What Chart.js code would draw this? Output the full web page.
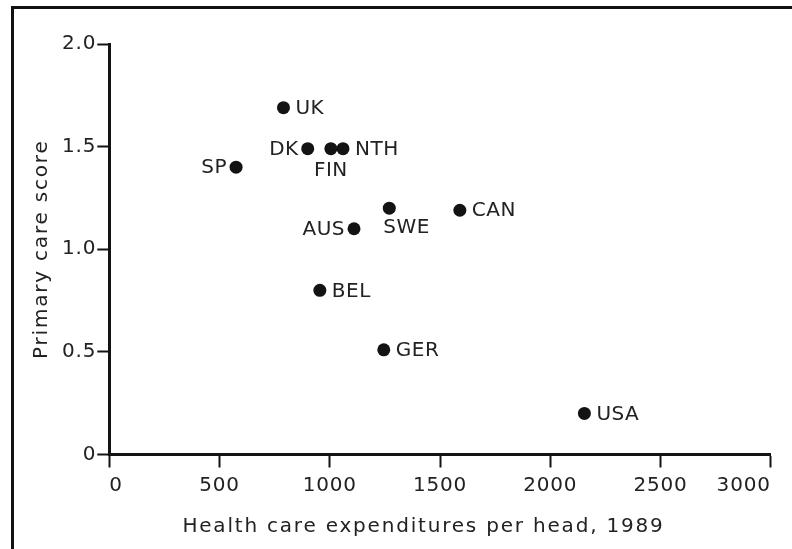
<!DOCTYPE html>
<html>
<head>
<meta charset="utf-8">
<title>Primary care score vs health care expenditures</title>
<script src="https://cdn.jsdelivr.net/npm/chart.js@4.4.1/dist/chart.umd.min.js"></script>
<style>
    html, body { margin: 0; padding: 0; background: #fff; overflow: hidden; }
    #wrap { position: relative; width: 792px; height: 549px; }
    #frame { position: absolute; left: 11px; top: 6px; width: 820px; height: 600px;
             border-left: 3px solid #111; border-top: 3px solid #111; }
    canvas { position: absolute; left: 0; top: 0; }
</style>
</head>
<body>
<div id="wrap">
    <div id="frame"></div>
    <canvas id="canvas" width="792" height="549"></canvas>
</div>
<script>
// data
const countries = ['UK', 'DK', 'FIN', 'NTH', 'SP', 'SWE', 'CAN', 'AUS', 'BEL', 'GER', 'USA'];
const spending  = [790, 900, 1005, 1060, 575, 1270, 1590, 1110, 955, 1245, 2155];
const score     = [1.69, 1.49, 1.49, 1.49, 1.40, 1.20, 1.19, 1.10, 0.80, 0.51, 0.20];

const xTicks = [0, 500, 1000, 1500, 2000, 2500, 3000];
const yTicks = [0, 0.5, 1.0, 1.5, 2.0];
const yTickLabels = ['0', '0.5', '1.0', '1.5', '2.0'];

const xTitle = 'Health care expenditures per head, 1989';
const yTitle = 'Primary care score';

var ink = '#131313';
var textInk = '#222';
var family = '"DejaVu Sans", sans-serif';

// where each country name sits relative to its dot
var labelSide = {
    UK: 'right', DK: 'left', FIN: 'below', NTH: 'right', SP: 'left', SWE: 'belowLeft',
    CAN: 'right', AUS: 'left', BEL: 'right', GER: 'right', USA: 'right'
};

var spacingPlugin = {
    id: 'spacing',
    beforeDraw: function(chart) {
        chart.ctx.letterSpacing = '0.8px';
    }
};

var labelPlugin = {
    id: 'pointLabels',
    afterDatasetsDraw: function(chart) {
        var ctx = chart.ctx;
        var pts = chart.getDatasetMeta(0).data;
        ctx.save();
        ctx.font = '20px ' + family;
        ctx.fillStyle = textInk;
        ctx.letterSpacing = '0.5px';
        ctx.textBaseline = 'middle';
        pts.forEach(function(p, i) {
            var name = countries[i];
            var side = labelSide[name];
            if (side === 'left') {
                ctx.textAlign = 'right';
                ctx.fillText(name, p.x - 9, p.y + 1);
            } else if (side === 'below') {
                ctx.textAlign = 'center';
                ctx.fillText(name, p.x, p.y + 22);
            } else if (side === 'belowLeft') {
                ctx.textAlign = 'left';
                ctx.fillText(name, p.x - 6, p.y + 20);
            } else {
                ctx.textAlign = 'left';
                ctx.fillText(name, p.x + 12, p.y + 1);
            }
        });
        ctx.restore();
    }
};

var titlePlugin = {
    id: 'axisTitles',
    afterDraw: function(chart) {
        var ctx = chart.ctx;
        var area = chart.chartArea;
        ctx.save();
        ctx.font = '20px ' + family;
        ctx.fillStyle = textInk;
        ctx.letterSpacing = '1.8px';
        ctx.textAlign = 'center';
        ctx.textBaseline = 'alphabetic';
        ctx.fillText(xTitle, area.left + (area.right - area.left) * 0.475, 532);
        ctx.translate(47, (area.top + area.bottom) / 2);
        ctx.rotate(-Math.PI / 2);
        ctx.fillText(yTitle, 0, 0);
        ctx.restore();
    }
};

function renderChart() {
    var ctx = document.getElementById('canvas').getContext('2d');
    new Chart(ctx, {
        type: 'scatter',
        data: {
            datasets: [{
                data: spending.map((x, i) => ({ x: x, y: score[i] })),
                backgroundColor: ink,
                borderWidth: 0,
                pointRadius: 6.5,
                pointHoverRadius: 6.5
            }]
        },
        options: {
            responsive: false,
            animation: false,
            layout: { padding: { left: 0, top: 44, right: 21.3, bottom: 0 } },
            plugins: {
                legend: { display: false },
                tooltip: { enabled: false }
            },
            scales: {
                x: {
                    type: 'linear',
                    position: 'bottom',
                    min: 0,
                    max: 3000,
                    afterBuildTicks: function(scale) {
                        scale.ticks = xTicks.map(v => ({ value: v }));
                    },
                    afterFit: function(scale) {
                        scale.height = 94.5;
                        scale.paddingLeft = 0;
                        scale.paddingRight = 0;
                    },
                    border: { display: true, color: ink, width: 3 },
                    grid: {
                        drawOnChartArea: false,
                        drawTicks: true,
                        tickLength: 13,
                        tickWidth: 2,
                        tickColor: ink
                    },
                    ticks: {
                        align: 'inner',
                        padding: 6,
                        color: textInk,
                        font: { family: family, size: 20 },
                        callback: function(v) { return String(v); }
                    },
                    title: { display: false }
                },
                y: {
                    type: 'linear',
                    position: 'left',
                    min: 0,
                    max: 2,
                    afterBuildTicks: function(scale) {
                        scale.ticks = yTicks.map(v => ({ value: v }));
                    },
                    afterFit: function(scale) {
                        scale.width = 109.3;
                        scale.paddingTop = 0;
                        scale.paddingBottom = 0;
                    },
                    border: { display: true, color: ink, width: 3 },
                    grid: {
                        drawOnChartArea: false,
                        drawTicks: true,
                        tickLength: 12,
                        tickWidth: 2,
                        tickColor: ink
                    },
                    ticks: {
                        padding: 1,
                        color: textInk,
                        font: { family: family, size: 20 },
                        callback: function(v, i) { return yTickLabels[i]; }
                    },
                    title: { display: false }
                }
            }
        },
        plugins: [spacingPlugin, labelPlugin, titlePlugin]
    });
}

renderChart();
</script>
</body>
</html>
